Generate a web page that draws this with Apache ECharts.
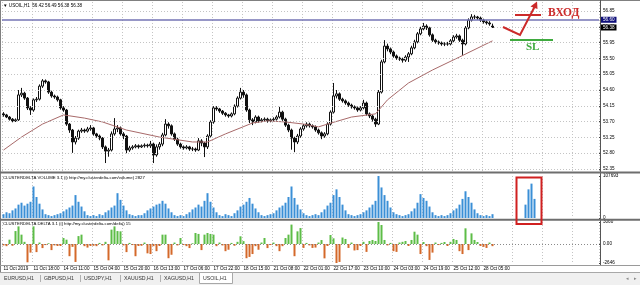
<!DOCTYPE html>
<html><head><meta charset="utf-8">
<script src="https://cdn.jsdelivr.net/npm/echarts@6.0.0/dist/echarts.min.js"></script>
<style>html,body{margin:0;padding:0;background:#fff}#c{width:640px;height:285px}</style>
</head><body><div id="c"></div>
<script>
// ---------- data ----------
const tickLabels = ['11 Oct 2019','11 Oct 18:00','14 Oct 11:00','15 Oct 04:00','15 Oct 20:00','16 Oct 13:00','17 Oct 06:00','17 Oct 22:00','18 Oct 15:00','21 Oct 08:00','22 Oct 01:00','22 Oct 17:00','23 Oct 10:00','24 Oct 03:00','24 Oct 19:00','25 Oct 12:00','28 Oct 05:00'];
const priceTicks = [52.35,52.80,53.25,53.70,54.15,54.60,55.05,55.50,55.95,56.40,56.85];
const volumeTicks = [0,107693];
const deltaTicks = [-2646,0,3060];
const levelLine = 56.60;

const opens = [53.92,53.89,53.83,53.77,53.72,53.75,54.46,54.51,54.37,54.09,
54.03,54.32,54.34,54.71,54.86,54.83,54.54,54.43,54.40,54.32,
54.09,54.03,53.63,53.46,53.12,53.23,53.43,53.46,53.43,53.49,
53.52,53.35,53.29,53.23,52.98,52.86,52.89,53.35,53.49,53.52,
53.35,53.29,52.89,52.95,52.98,53.01,52.98,53.01,53.03,53.01,
53.06,52.75,52.98,53.06,53.32,53.63,53.58,53.35,53.20,53.06,
52.98,52.95,52.98,52.92,52.92,52.89,53.15,53.09,52.98,53.29,
53.69,54.09,54.06,54.00,53.94,53.89,53.86,53.92,54.14,54.37,
54.54,54.46,54.03,53.75,53.69,53.83,53.72,53.75,53.77,53.72,
53.75,53.77,53.83,53.97,53.77,53.60,53.46,53.23,53.12,53.29,
53.49,53.58,53.63,53.58,53.55,53.46,53.38,53.29,53.35,53.63,
53.97,54.43,54.49,54.34,54.29,54.23,54.17,54.12,54.09,54.03,
54.09,54.23,53.92,53.86,53.77,53.63,54.54,55.40,55.85,55.77,
55.68,55.57,55.51,55.48,55.45,55.54,55.63,55.80,55.97,56.20,
56.34,56.42,56.37,56.17,56.02,55.97,55.94,55.91,55.91,55.91,
56.00,56.11,56.14,56.02,55.91,56.37,56.59,56.68,56.68,56.65,
56.59,56.54,56.51,56.42];
const closes = [53.89,53.83,53.77,53.72,53.75,54.46,54.51,54.37,54.09,54.03,
54.32,54.34,54.71,54.86,54.83,54.54,54.43,54.40,54.32,54.09,
54.03,53.63,53.46,53.12,53.23,53.43,53.46,53.43,53.49,53.52,
53.35,53.29,53.23,52.98,52.86,52.89,53.35,53.49,53.52,53.35,
53.29,52.89,52.95,52.98,53.01,52.98,53.01,53.03,53.01,53.06,
52.75,52.98,53.06,53.32,53.63,53.58,53.35,53.20,53.06,52.98,
52.95,52.98,52.92,52.92,52.89,53.15,53.09,52.98,53.29,53.69,
54.09,54.06,54.00,53.94,53.89,53.86,53.92,54.14,54.37,54.54,
54.46,54.03,53.75,53.69,53.83,53.72,53.75,53.77,53.72,53.75,
53.77,53.83,53.97,53.77,53.60,53.46,53.23,53.12,53.29,53.49,
53.58,53.63,53.58,53.55,53.46,53.38,53.29,53.35,53.63,53.97,
54.43,54.49,54.34,54.29,54.23,54.17,54.12,54.09,54.03,54.09,
54.23,53.92,53.86,53.77,53.63,54.54,55.40,55.85,55.77,55.68,
55.57,55.51,55.48,55.45,55.54,55.63,55.80,55.97,56.20,56.34,
56.42,56.37,56.17,56.02,55.97,55.94,55.91,55.91,55.91,56.00,
56.11,56.14,56.02,55.91,56.37,56.59,56.68,56.68,56.65,56.59,
56.54,56.51,56.48,56.38];
const lows = [53.84,53.80,53.73,53.68,53.69,53.72,54.40,54.32,54.03,53.89,
53.98,54.26,54.30,54.66,54.78,54.49,54.38,54.35,54.27,54.04,
53.98,53.58,53.38,52.81,53.05,53.18,53.38,53.38,53.39,53.44,
53.30,53.24,53.17,52.92,52.52,52.70,52.85,53.30,53.40,53.30,
53.20,52.80,52.84,52.90,52.94,52.93,52.95,52.96,52.96,52.95,
52.52,52.70,52.90,53.00,53.28,53.50,53.30,53.15,53.01,52.93,
52.90,52.91,52.87,52.86,52.84,52.86,53.00,52.69,52.92,53.25,
53.64,54.01,53.95,53.89,53.84,53.81,53.82,53.88,54.10,54.33,
54.38,53.98,53.66,53.60,53.65,53.67,53.68,53.71,53.67,53.68,
53.71,53.73,53.79,53.72,53.55,53.40,52.90,52.83,53.06,53.24,
53.44,53.53,53.53,53.50,53.41,53.33,53.20,53.24,53.31,53.59,
53.93,54.36,54.29,54.24,54.18,54.12,54.07,54.04,53.98,53.99,
54.05,53.87,53.80,53.70,53.55,53.60,54.50,55.36,55.70,55.62,
55.52,55.46,55.43,55.38,55.40,55.40,55.59,55.76,55.93,56.16,
56.30,56.31,56.12,55.97,55.92,55.89,55.86,55.85,55.86,55.87,
55.96,56.06,55.97,55.60,55.87,56.33,56.55,56.62,56.60,56.54,
56.49,56.46,56.43,56.38];
const highs = [53.97,53.92,53.86,53.80,53.79,54.60,54.66,54.55,54.40,54.14,
54.36,54.40,54.76,54.91,54.90,54.86,54.58,54.47,54.44,54.35,
54.14,54.06,53.66,53.49,53.29,53.47,53.52,53.50,53.55,53.60,
53.55,53.38,53.33,53.26,53.02,52.95,53.42,53.80,53.60,53.56,
53.40,53.32,53.01,53.03,53.06,53.05,53.05,53.08,53.07,53.15,
53.10,53.05,53.12,53.38,53.77,53.68,53.62,53.39,53.24,53.10,
53.02,53.03,53.01,52.98,52.96,53.23,53.20,53.12,53.34,53.74,
54.14,54.14,54.09,54.03,53.97,53.92,53.96,54.19,54.42,54.66,
54.60,54.50,54.07,53.80,53.88,53.87,53.80,53.82,53.81,53.79,
53.82,53.88,54.12,54.01,53.81,53.64,53.50,53.27,53.35,53.54,
53.63,53.68,53.67,53.62,53.59,53.50,53.42,53.40,53.68,54.02,
54.80,54.60,54.53,54.38,54.33,54.27,54.21,54.16,54.13,54.14,
54.32,54.27,53.96,53.90,53.81,54.60,55.46,56.02,55.92,55.81,
55.72,55.61,55.55,55.52,55.59,55.68,55.86,56.03,56.25,56.40,
56.51,56.47,56.40,56.21,56.06,56.01,55.98,55.96,55.97,56.05,
56.16,56.20,56.18,56.06,56.42,56.64,56.76,56.74,56.71,56.69,
56.63,56.58,56.56,56.49];

const maIndex  = [0,6,13,20,27,33,41,52,63,68,74,83,88,94,100,105,108,116,124,128,135,143,152,163];
const maValues = [52.89,53.26,53.63,53.89,53.80,53.69,53.46,53.26,53.12,53.12,53.35,53.66,53.72,53.69,53.63,53.55,53.63,53.83,53.92,54.32,54.80,55.17,55.54,56.00];

const volume = [9790,14690,12240,19580,24480,34270,39170,31820,36720,41620,
80780,53860,36720,22030,9790,7340,4900,7340,9790,12240,
17140,22030,26930,31820,58750,41620,29380,17140,7340,4900,
7340,4900,9790,7340,14690,19580,26930,31820,63650,46510,
31820,19580,9790,7340,4900,7340,7340,12240,19580,24480,
29380,34270,36720,44060,36720,24480,14690,7340,4900,7340,
4900,9790,14690,22030,26930,34270,29380,44060,63650,41620,
26930,14690,7340,4900,9790,7340,4900,12240,19580,29380,
34270,41620,51410,36720,24480,14690,7340,4900,7340,9790,
12240,19580,26930,31820,39170,53860,80780,51410,34270,22030,
12240,7340,4900,7340,9790,7340,14690,22030,31820,39170,
58750,73440,53860,34270,19580,9790,7340,4900,7340,9790,
14690,19580,26930,34270,44060,107693,78340,58750,44060,26930,
14690,9790,7340,4900,7340,9790,17140,24480,39170,61200,
51410,44060,29380,14690,7340,4900,7340,4900,7340,12240,
19580,24480,34270,48960,68540,53860,39170,22030,12240,7340,
4900,7340,4900,9790];
const boxVolume = [34270,73440,88130,48960];

const delta = [-200,-300,600,-250,1800,2450,1300,300,-2550,-1200,
2450,-1130,200,-570,-150,100,-850,-200,-280,-280,
830,600,-1700,-400,-2500,1100,1300,-300,-500,-280,
-250,-300,150,-200,300,-2270,2000,2450,1800,1760,
-200,-1130,150,-150,-1700,-280,-250,200,-1300,-1400,
-300,-1000,-280,1300,1300,-1980,-1500,200,-200,830,
-150,-300,-570,100,1530,1400,-850,1300,1530,1400,
1300,-300,200,-200,-1000,-800,150,-250,300,1070,
400,-1980,-1800,-1400,-300,-800,200,830,-570,-150,
200,-300,-1000,-300,830,1300,2700,-1700,1760,2220,
-550,150,-200,-550,-500,200,550,-2000,-280,1250,
790,-2646,-2500,900,700,-550,200,-900,-850,-280,
300,-1100,420,560,420,3060,2640,560,-200,150,
-1000,-1100,200,300,420,-280,560,1710,1300,-1400,
280,-300,-2220,-1200,200,-150,150,280,-280,300,
700,560,-1000,-1400,2180,-850,1480,560,280,-280,
-400,-550,200,-300];

const tabNames = ['EURUSD,H1','GBPUSD,H1','USDJPY,H1','XAUUSD,H1','XAGUSD,H1','USOIL,H1'];

// ---------- build ----------
const FONT = '"Liberation Sans", Arial, sans-serif';
const NCAT = 199, BOX_START = 174;
const cats = Array.from({length: NCAT}, (_, i) => String(i));
const candle = opens.map((o, i) => [o, closes[i], lows[i], highs[i]]);
const ma = opens.map(() => null);
maIndex.forEach((k, j) => { ma[k] = maValues[j]; });
const vol = volume.slice();
while (vol.length < BOX_START) vol.push(null);
boxVolume.forEach(v => vol.push(v));
const lastPrice = closes[closes.length - 1];

const gridBox = [
  {left: 2, width: 597, top: 2, height: 170},
  {left: 2, width: 597, top: 176, height: 42},
  {left: 2, width: 597, top: 222, height: 41}
];
const isGrid = (i) => i % 10 === 0;
function xa(gi, showLabel) {
  return {
    type: 'category', gridIndex: gi, data: cats, boundaryGap: true,
    axisLine: {show: false}, axisTick: {show: false},
    axisLabel: {show: showLabel, interval: (i) => i % 10 === 0 && i / 10 < tickLabels.length,
      formatter: (v) => tickLabels[(+v) / 10] || '', fontSize: 4.6, color: '#000',
      align: 'left', margin: 3, fontFamily: FONT},
    splitLine: {show: true, interval: (i) => isGrid(i), lineStyle: {color: '#c4c4c4', type: [1, 2], width: 1}}
  };
}
function ya(gi, min, max, ticks, fmt) {
  return {
    type: 'value', gridIndex: gi, position: 'right', min: min, max: max,
    axisLine: {show: false},
    axisTick: {show: true, length: 2, customValues: ticks, lineStyle: {color: '#444'}},
    axisLabel: {customValues: ticks, formatter: fmt, fontSize: 4.6, color: '#000', margin: 4, fontFamily: FONT},
    splitLine: {show: false}
  };
}
const boxLabel = (bg) => ({show: true, position: 'end', distance: 2, backgroundColor: bg, color: '#fff',
  padding: [1, 2, 0, 2], fontSize: 4.6, fontFamily: FONT});

const lineW = (x1, y1, x2, y2, color, w) => ({type: 'line', silent: true, shape: {x1, y1, x2, y2}, style: {stroke: color, lineWidth: w}, z: 50});
const txt = (x, y, t, size, color, extra) => ({type: 'text', silent: true, x, y, z: 60,
  style: Object.assign({text: t, fontSize: size, fontFamily: FONT, fill: color, verticalAlign: 'middle'}, extra || {})});

const graphics = [
  lineW(0.5, 0, 0.5, 272, '#808080', 1),
  lineW(0, 0.5, 640, 0.5, '#808080', 1),
  lineW(600.5, 0, 600.5, 265, '#555', 1),
  {type: 'rect', silent: true, z: 50, shape: {x: 0, y: 171.5, width: 640, height: 2}, style: {fill: '#6e6e6e'}},
  {type: 'rect', silent: true, z: 50, shape: {x: 0, y: 218.8, width: 640, height: 2}, style: {fill: '#6e6e6e'}},
  lineW(0, 265.5, 640, 265.5, '#9a9a9a', 1),
  txt(3, 6, '▼ USOIL,H1  56.42 56.49 56.38 56.38', 4.6, '#000'),
  txt(3, 177.5, 'CLUSTERDELTA VOLUME 3.1 (i) http://my.clusterdelta.com/volume) 2827', 4.3, '#000'),
  txt(3, 224, 'CLUSTERDELTA DELTA 3.1 (i) http://my.clusterdelta.com/delta) 15', 4.3, '#000'),
  // hand-drawn annotations
  lineW(515, 15, 541, 15, '#cc2a2a', 2),
  {type: 'polyline', silent: true, z: 55, shape: {points: [[503, 27], [520, 35], [535, 6]]}, style: {stroke: '#cc2a2a', lineWidth: 2, fill: null}},
  {type: 'polygon', silent: true, z: 55, shape: {points: [[537, 1.5], [530.5, 6.5], [537.5, 9]]}, style: {fill: '#cc2a2a'}},
  txt(548, 13.5, 'ВХОД', 11.5, '#cc2a2a', {fontFamily: '"Liberation Serif", serif', fontWeight: 'bold'}),
  lineW(510, 40, 553, 40, '#3faa3f', 2),
  txt(526, 47.5, 'SL', 11, '#3faa3f', {fontFamily: '"Liberation Serif", serif', fontWeight: 'bold'}),
  {type: 'rect', silent: true, z: 55, shape: {x: 516.5, y: 177.5, width: 25, height: 46.5}, style: {stroke: '#d02020', lineWidth: 2, fill: null}},
  // terminal tab bar
  {type: 'rect', silent: true, z: 50, shape: {x: 0, y: 272, width: 640, height: 13}, style: {fill: '#f0f0f0'}},
  lineW(0, 272.5, 640, 272.5, '#a8a8a8', 1),
  {type: 'rect', silent: true, z: 51, shape: {x: 199.5, y: 272.5, width: 33, height: 11}, style: {fill: '#fff', stroke: '#a8a8a8', lineWidth: 1}},
  txt(626, 279, '◂', 5, '#888'),
  txt(634, 279, '▸', 5, '#888')
];
const tabX = [4, 44, 84, 124, 164, 203];
tabNames.forEach((t, i) => {
  graphics.push(txt(tabX[i], 278.5, t, 5.2, '#333'));
  if (i > 0 && i < tabNames.length - 1) graphics.push(lineW(tabX[i] - 3.5, 275, tabX[i] - 3.5, 282, '#b0b0b0', 1));
});

const option = {
  animation: false,
  backgroundColor: '#ffffff',
  grid: gridBox,
  xAxis: [xa(0, false), xa(1, false), xa(2, true)],
  yAxis: [
    ya(0, 52.265, 57.106, priceTicks, (v) => v.toFixed(2)),
    ya(1, 0, 107693, volumeTicks, (v) => String(v)),
    ya(2, -2646, 3060, deltaTicks, (v) => v === 0 ? '0.00' : String(v))
  ],
  series: [
    {type: 'line', xAxisIndex: 0, yAxisIndex: 0, data: [], silent: true, z: 1,
      markLine: {silent: true, symbol: 'none', label: {show: false}, animation: false,
        lineStyle: {color: '#c4c4c4', type: [1, 2], width: 1},
        data: priceTicks.map(v => ({yAxis: v}))}},
    {type: 'candlestick', xAxisIndex: 0, yAxisIndex: 0, data: candle, barWidth: 2, z: 3,
      itemStyle: {color: '#ffffff', color0: '#111111', borderColor: '#111111', borderColor0: '#111111', borderWidth: 1},
      markLine: {silent: true, symbol: 'none', animation: false,
        data: [
          {yAxis: levelLine, lineStyle: {color: '#7474b4', width: 1.5, type: 'solid'}, label: Object.assign(boxLabel('#10107a'), {formatter: levelLine.toFixed(2)})}
        ]}},
    {type: 'line', xAxisIndex: 0, yAxisIndex: 0, data: [], silent: true, z: 6,
      markLine: {silent: true, symbol: 'none', animation: false,
        data: [
          {yAxis: lastPrice, lineStyle: {color: 'rgba(0,0,0,0)', width: 1}, label: Object.assign(boxLabel('#000000'), {formatter: lastPrice.toFixed(2)})}
        ]}},
    {type: 'line', xAxisIndex: 0, yAxisIndex: 0, data: ma, connectNulls: true, symbol: 'none', z: 4,
      lineStyle: {color: '#a86a6a', width: 1}},
    {type: 'bar', xAxisIndex: 1, yAxisIndex: 1, data: vol, barWidth: 2, itemStyle: {color: '#3a8fd6'}},
    {type: 'bar', xAxisIndex: 2, yAxisIndex: 2, data: delta, barWidth: 2, z: 3,
      itemStyle: {color: (p) => p.value >= 0 ? '#5dbd47' : '#d4692a'},
      markLine: {silent: true, symbol: 'none', label: {show: false}, animation: false,
        lineStyle: {color: '#8a8a8a', type: [1, 2], width: 1}, data: [{yAxis: 0}]}}
  ],
  graphic: graphics
};
const chart = echarts.init(document.getElementById('c'), null, {renderer: 'canvas', width: 640, height: 285});
chart.setOption(option);
</script>
</body></html>
